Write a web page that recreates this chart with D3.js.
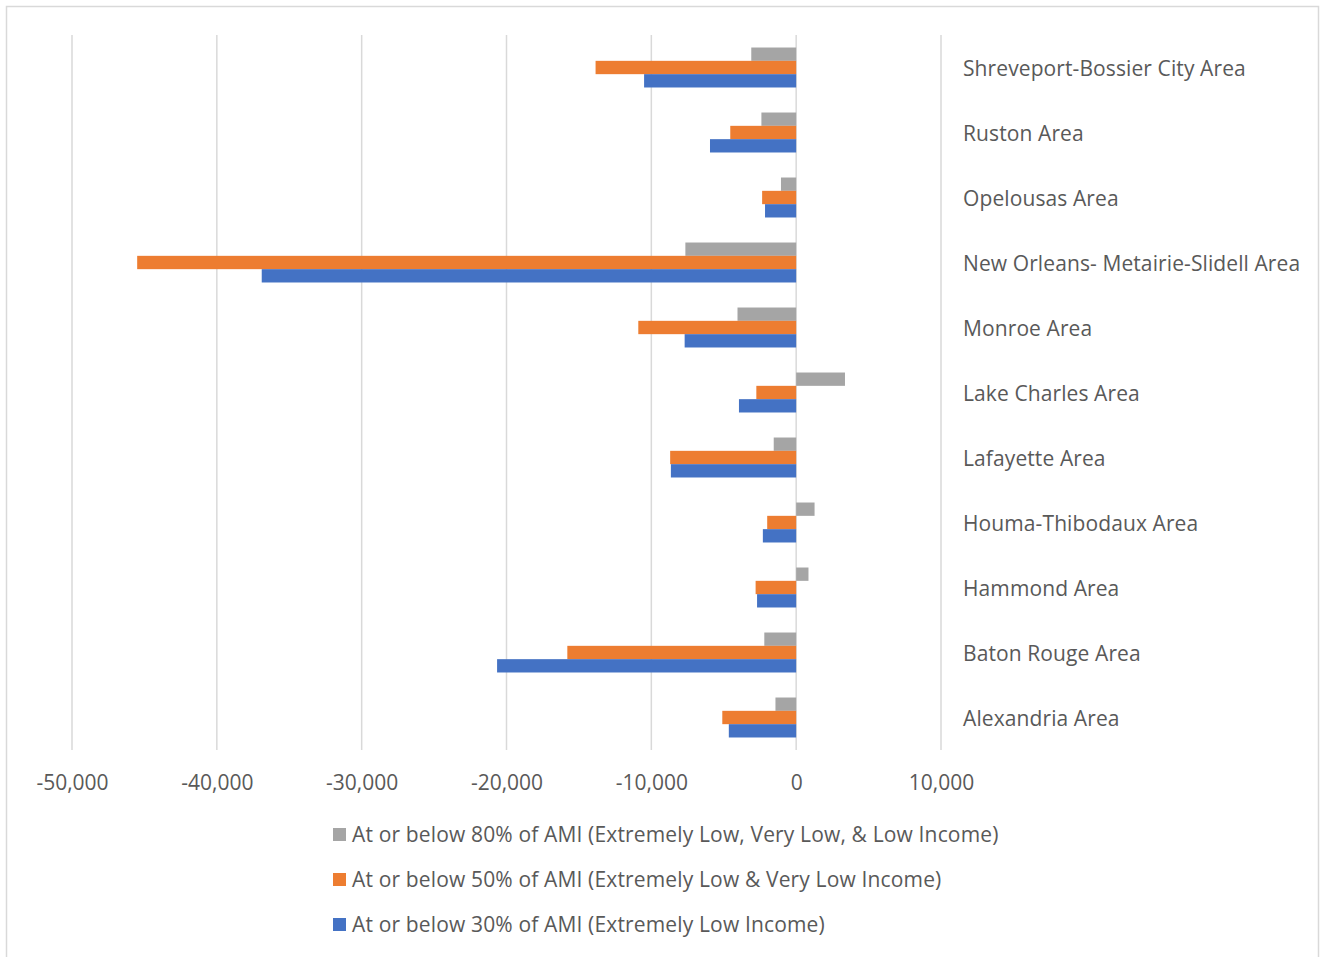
<!DOCTYPE html>
<html>
<head>
<meta charset="utf-8">
<script src="https://cdn.jsdelivr.net/npm/d3@7"></script>
<style>
  body { margin: 0; background: #fff; }
  text { font-family: "Open Sans", sans-serif; fill: #595959; }
</style>
</head>
<body>
<div class="container"></div>
<script>
var w = 1320;
var h = 957;

// data (top to bottom as drawn)
var areas = [
  "Shreveport-Bossier City Area",
  "Ruston Area",
  "Opelousas Area",
  "New Orleans- Metairie-Slidell Area",
  "Monroe Area",
  "Lake Charles Area",
  "Lafayette Area",
  "Houma-Thibodaux Area",
  "Hammond Area",
  "Baton Rouge Area",
  "Alexandria Area"
];
var ami80 = [-3100, -2400, -1050, -7650, -4050, 3370, -1550, 1270, 850, -2200, -1430];
var ami50 = [-13850, -4550, -2350, -45500, -10900, -2750, -8700, -2000, -2800, -15800, -5100];
var ami30 = [-10500, -5950, -2150, -36900, -7700, -3950, -8650, -2300, -2700, -20650, -4650];

var seriesNames = [
  "At or below 80% of AMI (Extremely Low, Very Low, & Low Income)",
  "At or below 50% of AMI (Extremely Low & Very Low Income)",
  "At or below 30% of AMI (Extremely Low Income)"
];
var seriesColors = ["#a5a5a5", "#ed7d31", "#4472c4"];
var xTicks = [-50000, -40000, -30000, -20000, -10000, 0, 10000];

var seriesVals = [ami80, ami50, ami30];

var canvas = d3
  .select(".container")
  .append("svg")
  .attr("width", w)
  .attr("height", h);

// chart border
canvas.append("rect")
  .attr("x", 6.5).attr("y", 6.5)
  .attr("width", 1312).attr("height", 960)
  .attr("fill", "none")
  .attr("stroke", "#d9d9d9")
  .attr("stroke-width", 1.5);

var xScale = d3.scaleLinear().domain([-50000, 10000]).range([72, 941]);
var yScale = d3.scaleBand().domain(areas).range([35, 750])
  .paddingInner(0.385).paddingOuter(0.1925);
var ySub = d3.scaleBand().domain([0, 1, 2]).range([0, yScale.bandwidth()]);

// gridlines
canvas.append("g")
  .selectAll("line")
  .data(xTicks)
  .enter()
  .append("line")
  .attr("x1", d => xScale(d))
  .attr("x2", d => xScale(d))
  .attr("y1", 35)
  .attr("y2", 750)
  .attr("stroke", "#d9d9d9")
  .attr("stroke-width", 1.5);

// bars
var groups = canvas.append("g")
  .selectAll("g")
  .data(areas)
  .enter()
  .append("g")
  .attr("transform", d => "translate(0," + yScale(d) + ")");

groups.selectAll("rect")
  .data((d, i) => seriesVals.map((s, k) => ({ k: k, v: s[i] })))
  .enter()
  .append("rect")
  .attr("x", d => xScale(Math.min(0, d.v)))
  .attr("width", d => Math.abs(xScale(d.v) - xScale(0)))
  .attr("y", d => ySub(d.k))
  .attr("height", ySub.bandwidth())
  .attr("fill", d => seriesColors[d.k]);

// category labels on the right
canvas.append("g")
  .selectAll("text")
  .data(areas)
  .enter()
  .append("text")
  .attr("x", 963)
  .attr("y", d => yScale(d) + yScale.bandwidth() / 2 + 1)
  .attr("dy", "0.35em")
  .attr("font-size", 21)
  .style("letter-spacing", "0.1px")
  .text(d => d);

// x axis labels
var xAxis = d3.axisBottom(xScale)
  .tickValues(xTicks)
  .tickFormat(d3.format(","))
  .tickSize(0)
  .tickPadding(0);
var ax = canvas.append("g")
  .attr("transform", "translate(0,775)")
  .call(xAxis);
ax.select(".domain").remove();
ax.selectAll("text")
  .attr("font-size", 21)
  .attr("font-family", null)
  .attr("fill", "#595959")
  .text(d => d3.format(",")(d).replace("−", "-"));

// legend
var legend = canvas.append("g")
  .selectAll("g")
  .data(seriesNames)
  .enter()
  .append("g")
  .attr("transform", (d, i) => "translate(333," + (835 + i * 45) + ")");
legend.append("rect")
  .attr("x", 0).attr("y", -7)
  .attr("width", 13).attr("height", 13)
  .attr("fill", (d, i) => seriesColors[i]);
legend.append("text")
  .attr("x", 19)
  .attr("y", 0)
  .attr("dy", "0.35em")
  .attr("font-size", 21)
  .style("letter-spacing", "0.15px")
  .text(d => d);
</script>
</body>
</html>
